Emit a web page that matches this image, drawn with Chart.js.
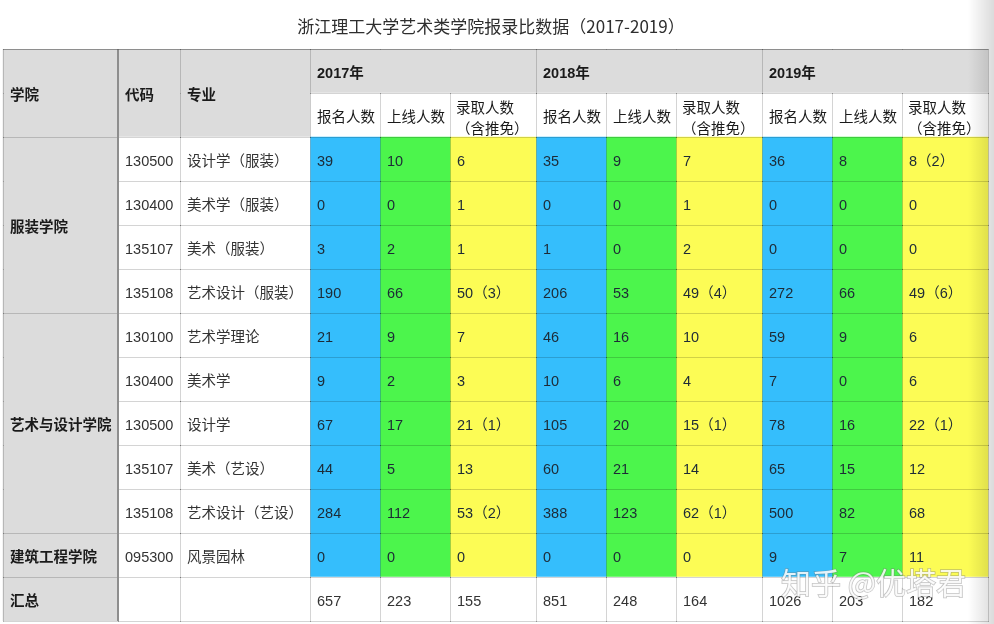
<!DOCTYPE html>
<html>
<head>
<meta charset="utf-8">
<script src="https://cdn.jsdelivr.net/npm/chart.js"></script>
<style>
    body { margin: 0; background: #fff; }
    .chart-box { width: 994px; height: 624px; position: relative; }
</style>
</head>
<body>
<div class="chart-box">
    <canvas id="tableChart"></canvas>
</div>

<script>
    // ---- data ----
    const years = ['2017年', '2018年', '2019年'];
    const subHeads = ['报名人数', '上线人数', '录取人数\n（含推免）'];
    const colleges = ['服装学院', '艺术与设计学院', '建筑工程学院'];
    const collegeSpans = [4, 5, 1];
    const codes = ['130500', '130400', '135107', '135108', '130100', '130400', '130500', '135107', '135108', '095300'];
    const majors = ['设计学（服装）', '美术学（服装）', '美术（服装）', '艺术设计（服装）', '艺术学理论', '美术学', '设计学', '美术（艺设）', '艺术设计（艺设）', '风景园林'];

    const applied2017 = [39, 0, 3, 190, 21, 9, 67, 44, 284, 0];
    const passed2017 = [10, 0, 2, 66, 9, 2, 17, 5, 112, 0];
    const admitted2017 = [6, 1, 1, 50, 7, 3, 21, 13, 53, 0];
    const exempt2017 = [0, 0, 0, 3, 0, 0, 1, 0, 2, 0];

    const applied2018 = [35, 0, 1, 206, 46, 10, 105, 60, 388, 0];
    const passed2018 = [9, 0, 0, 53, 16, 6, 20, 21, 123, 0];
    const admitted2018 = [7, 1, 2, 49, 10, 4, 15, 14, 62, 0];
    const exempt2018 = [0, 0, 0, 4, 0, 0, 1, 0, 1, 0];

    const applied2019 = [36, 0, 0, 272, 59, 7, 78, 65, 500, 9];
    const passed2019 = [8, 0, 0, 66, 9, 0, 16, 15, 82, 7];
    const admitted2019 = [8, 0, 0, 49, 6, 6, 22, 12, 68, 11];
    const exempt2019 = [2, 0, 0, 6, 0, 0, 1, 0, 0, 0];

    const totals2017 = [657, 223, 155];
    const totals2018 = [851, 248, 164];
    const totals2019 = [1026, 203, 182];

    // ---- layout ----
    const colEdges = [3, 118, 180, 310, 380, 450, 536, 606, 676, 762, 832, 902, 988];
    const rowKeys = ['年份', '指标'].concat(majors.map((m, i) => codes[i] + m), ['汇总']);
    const FONT = "'Liberation Sans', 'Noto Sans CJK SC', sans-serif";
    const GRAY = '#dcdcdc';
    const colColors = ['#35befc', '#4cf54c', '#fcfc55'];
    const LINE = 'rgba(0,0,0,0.17)';

    const yearData = [
        [applied2017, passed2017, admitted2017, exempt2017, totals2017],
        [applied2018, passed2018, admitted2018, exempt2018, totals2018],
        [applied2019, passed2019, admitted2019, exempt2019, totals2019]
    ];

    const fillFor = (c, r) => {
        if (c === 0) return GRAY;
        if (c < 3) return r < 2 ? GRAY : '#ffffff';
        if (r === 0) return GRAY;
        if (r === 1 || r === rowKeys.length - 1) return '#ffffff';
        return colColors[(c - 3) % 3];
    };

    // one floating-bar dataset per table column
    const datasets = colEdges.slice(0, -1).map((x0, c) => ({
        label: 'col' + c,
        data: rowKeys.map(() => [x0, colEdges[c + 1]]),
        backgroundColor: rowKeys.map((_, r) => fillFor(c, r)),
        borderWidth: 0,
        grouped: false,
        barPercentage: 1,
        categoryPercentage: 1
    }));

    // text cells: [colStart, colEnd, rowStart, rowEnd, text, bold, color]
    const cells = [];
    cells.push([0, 0, 0, 1, '学院', true], [1, 1, 0, 1, '代码', true], [2, 2, 0, 1, '专业', true]);
    years.forEach((y, i) => {
        cells.push([3 + 3 * i, 5 + 3 * i, 0, 0, y, true]);
        subHeads.forEach((s, j) => cells.push([3 + 3 * i + j, 3 + 3 * i + j, 1, 1, s, false]));
    });
    let start = 2;
    colleges.forEach((name, i) => {
        cells.push([0, 0, start, start + collegeSpans[i] - 1, name, true]);
        start += collegeSpans[i];
    });
    codes.forEach((code, k) => {
        cells.push([1, 1, k + 2, k + 2, code, false, '#333']);
        cells.push([2, 2, k + 2, k + 2, majors[k], false, '#333']);
    });
    yearData.forEach(([ap, pa, ad, ex, tot], i) => {
        ap.forEach((v, k) => {
            const r = k + 2;
            cells.push([3 + 3 * i, 3 + 3 * i, r, r, String(v), false, '#1d2a36']);
            cells.push([4 + 3 * i, 4 + 3 * i, r, r, String(pa[k]), false, '#1d2a36']);
            const adm = ex[k] > 0 ? ad[k] + '（' + ex[k] + '）' : String(ad[k]);
            cells.push([5 + 3 * i, 5 + 3 * i, r, r, adm, false, '#1d2a36']);
        });
        tot.forEach((v, j) => cells.push([3 + 3 * i + j, 3 + 3 * i + j, 12, 12, String(v), false, '#333']));
    });
    cells.push([0, 0, 12, 12, '汇总', true]);

    // which horizontal borders exist per column (boundary index b between row b-1 and b)
    const collegeBounds = [0, 2];
    collegeSpans.reduce((acc, s) => { collegeBounds.push(acc + s); return acc + s; }, 2);
    collegeBounds.push(13);
    const hasHLine = (c, b) => {
        if (b === 0 || b === rowKeys.length) return true;
        if (c === 0) return collegeBounds.includes(b);
        if (c < 3) return b >= 2;
        return true;
    };
    const hasVLine = (e, r) => {
        if ([0, 1, 2, 3, 6, 9, 12].includes(e)) return true;
        return r >= 1;
    };

    const tablePlugin = {
        id: 'tablePlugin',
        afterDatasetsDraw(chart) {
            const ctx = chart.ctx;
            const xs = chart.scales.x, ys = chart.scales.y;
            const rowH = (ys.bottom - ys.top) / rowKeys.length;
            const rowTop = (r) => ys.getPixelForValue(r) - rowH / 2;
            const px = (e) => xs.getPixelForValue(colEdges[e]);
            ctx.save();

            // grid lines
            ctx.fillStyle = LINE;
            for (let b = 0; b <= rowKeys.length; b++) {
                const yy = Math.round(b === rowKeys.length ? ys.bottom : rowTop(b));
                for (let c = 0; c < colEdges.length - 1; c++) {
                    if (hasHLine(c, b)) {
                        ctx.fillRect(px(c), yy, px(c + 1) - px(c) + 1, 1);
                    }
                }
            }
            for (let e = 0; e < colEdges.length; e++) {
                for (let r = 0; r < rowKeys.length; r++) {
                    if (hasVLine(e, r)) {
                        ctx.fillRect(px(e), Math.round(rowTop(r)), 1, Math.round(rowH) + 1);
                    }
                }
            }
            // heavy divider after the college column
            ctx.fillStyle = '#8e8e8e';
            ctx.fillRect(px(1) - 1, ys.top, 2, ys.bottom - ys.top);
            ctx.fillStyle = 'rgba(0,0,0,0.22)';
            ctx.fillRect(px(0), ys.top, px(12) - px(0), 1);

            // cell texts
            ctx.textBaseline = 'middle';
            ctx.textAlign = 'left';
            cells.forEach(([c0, c1, r0, r1, text, bold, color]) => {
                ctx.font = (bold ? 'bold ' : '') + '14.5px ' + FONT;
                ctx.fillStyle = color || '#1a1a1a';
                const x0 = px(c0) + 7;
                const yMid = (rowTop(r0) + rowTop(r1) + rowH) / 2 + 2.5;
                const lines = text.split('\n');
                if (lines.length === 1) {
                    ctx.fillText(text, x0, yMid);
                } else {
                    ctx.fillText(lines[0], x0 - 1, yMid - 8.5);
                    ctx.fillText(lines[1], x0 - 1, yMid + 12.5);
                }
            });
            ctx.restore();
        },
        afterDraw(chart) {
            const ctx = chart.ctx;
            ctx.save();
            // title
            ctx.font = "17px 'Noto Sans CJK SC', sans-serif";
            ctx.fillStyle = '#2e2e2e';
            ctx.textAlign = 'center';
            ctx.textBaseline = 'middle';
            ctx.fillText('浙江理工大学艺术类学院报录比数据（2017-2019）', 491, 27);

            // watermark
            ctx.font = "30px 'Noto Sans CJK SC', sans-serif";
            ctx.textAlign = 'left';
            ctx.lineWidth = 1.5;
            ctx.strokeStyle = 'rgba(120,120,120,0.45)';
            ctx.strokeText('知乎 @优塔君', 781, 583);
            ctx.fillStyle = 'rgba(255,255,255,0.85)';
            ctx.fillText('知乎 @优塔君', 781, 583);

            // page shadow at the right edge
            const g = ctx.createLinearGradient(968, 0, 994, 0);
            g.addColorStop(0, 'rgba(0,0,0,0)');
            g.addColorStop(1, 'rgba(0,0,0,0.14)');
            ctx.fillStyle = g;
            ctx.fillRect(968, 0, 26, 624);
            ctx.restore();
        }
    };

    const tableChart = new Chart(document.getElementById('tableChart'), {
        type: 'bar',
        data: { labels: rowKeys, datasets: datasets },
        options: {
            indexAxis: 'y',
            responsive: true,
            maintainAspectRatio: false,
            animation: false,
            layout: { padding: { top: 49, bottom: 3, left: 0, right: 0 } },
            scales: {
                x: { type: 'linear', min: 0, max: 994, display: false },
                y: { type: 'category', display: false }
            },
            plugins: {
                legend: { display: false },
                tooltip: { enabled: false }
            }
        },
        plugins: [tablePlugin]
    });
</script>
</body>
</html>
